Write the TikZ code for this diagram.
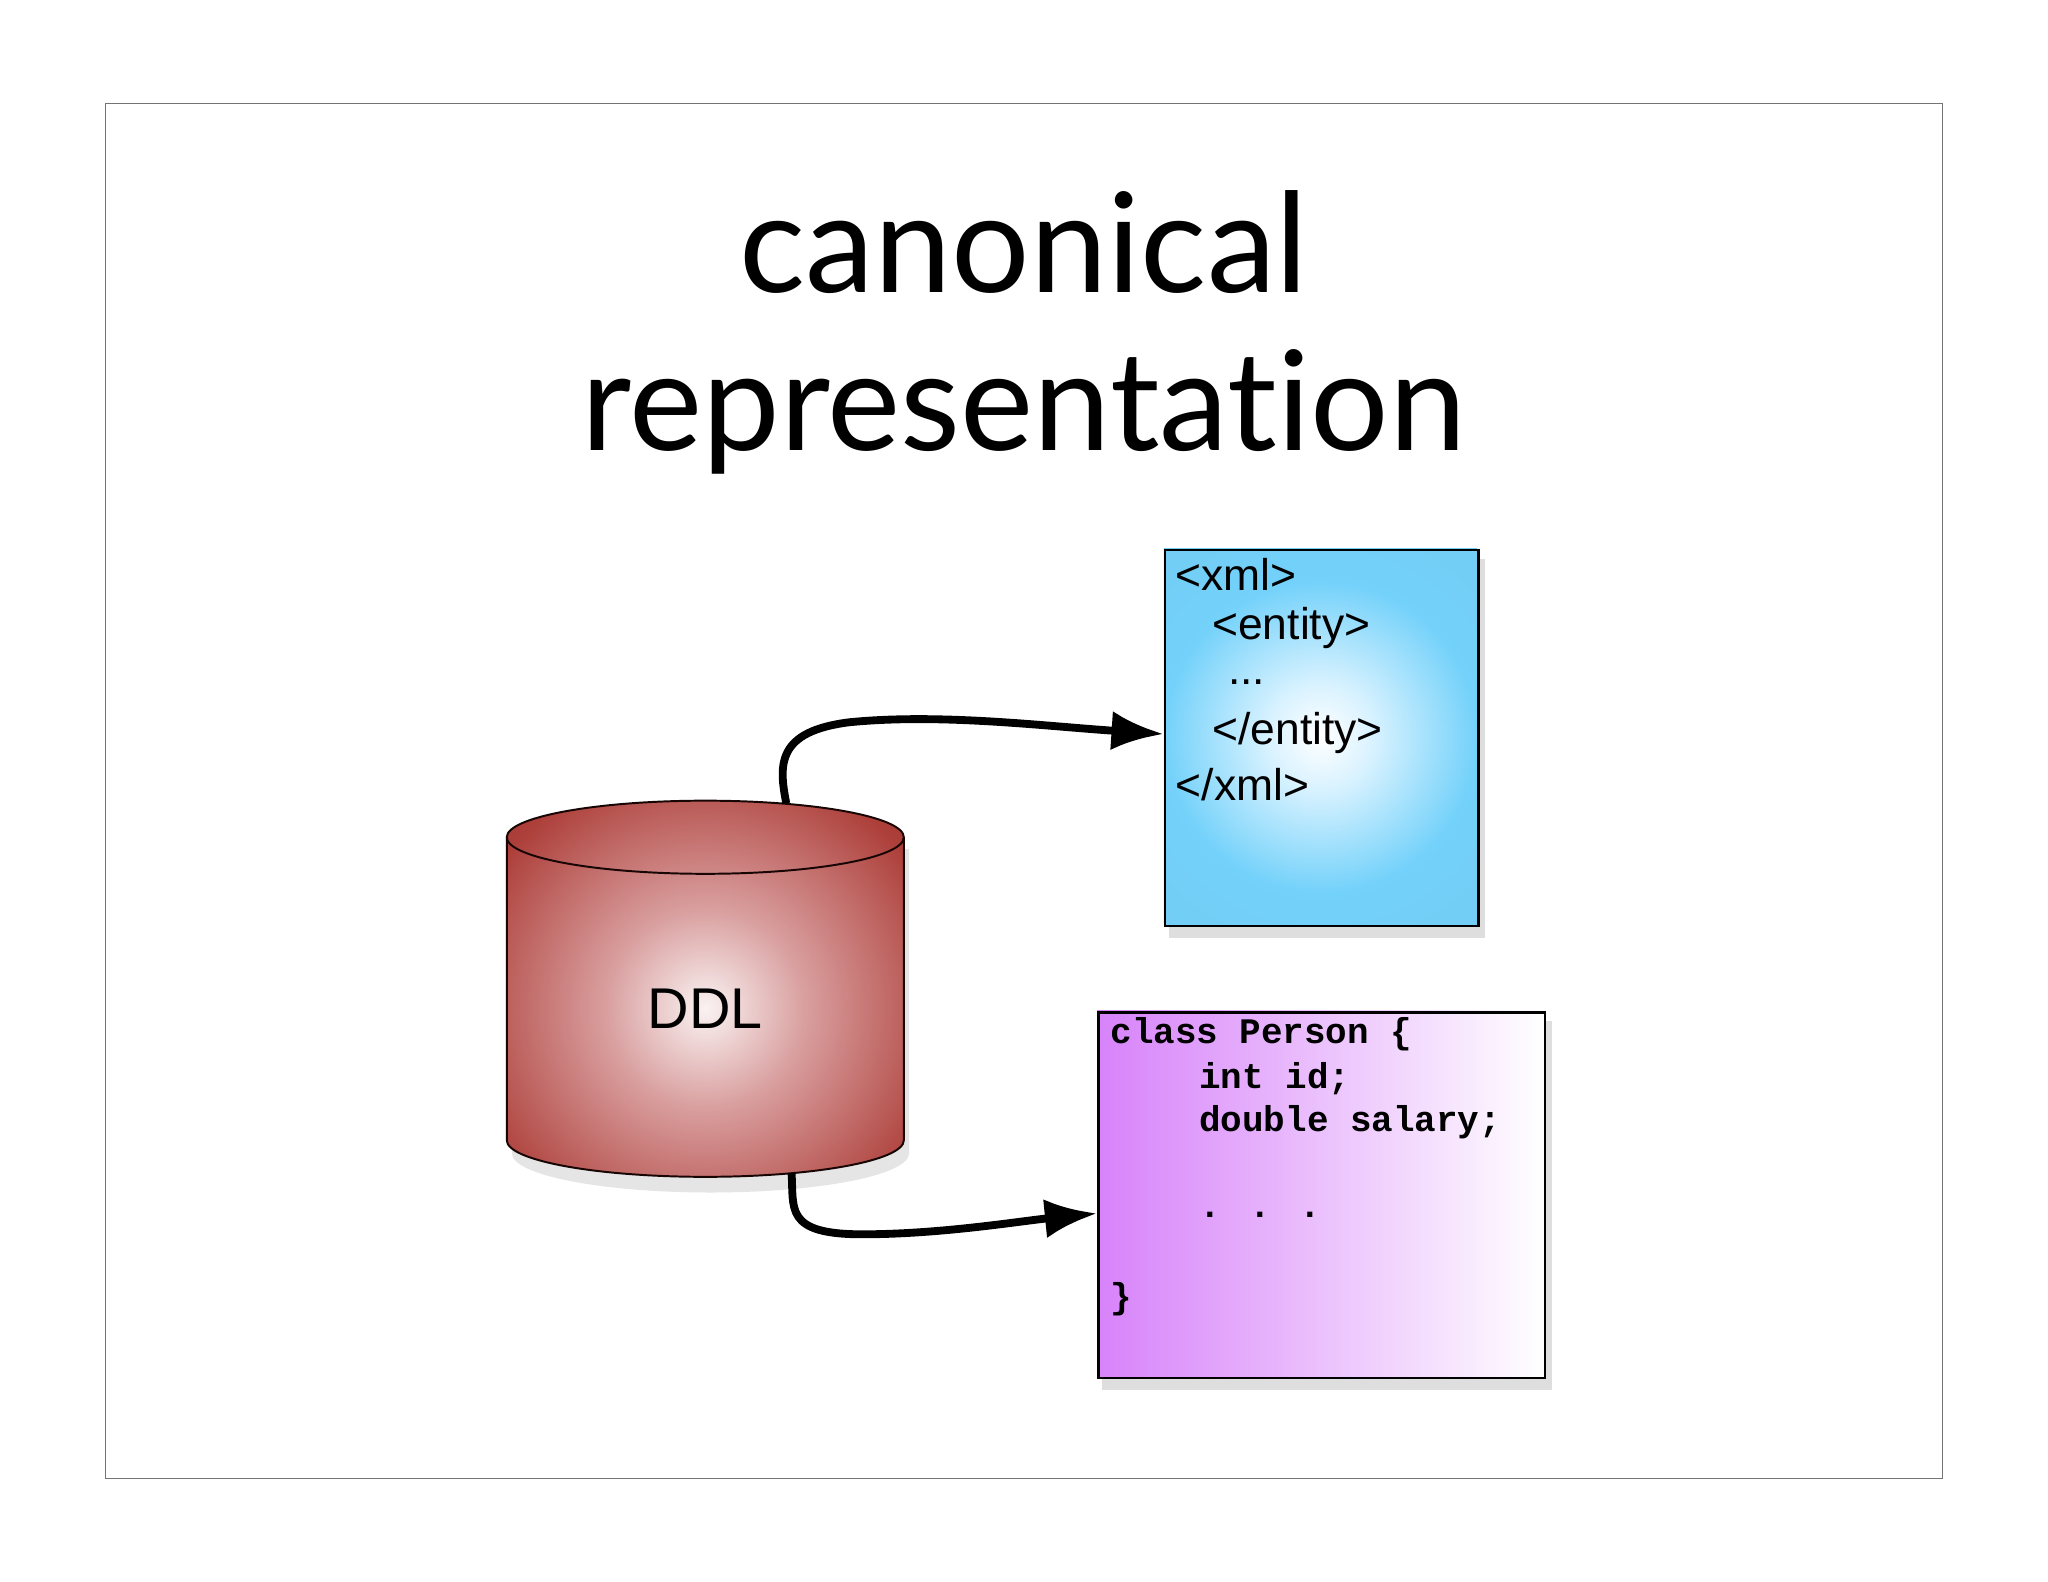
\documentclass[tikz,border=0pt]{standalone}
\usepackage{fontspec}
\setmainfont[Ligatures=NoCommon]{Lato}
\newfontfamily\arialf{Liberation Sans}
\newfontfamily\monof{Liberation Mono}
\usetikzlibrary{arrows.meta}
\definecolor{ddlred}{RGB}{160,40,35}
\definecolor{violetc}{RGB}{215,130,250}
\pgfdeclareradialshading{xmlshade}{\pgfpoint{0bp}{0bp}}{rgb(0bp)=(1,1,1);rgb(4bp)=(0.85,0.95,1);rgb(12bp)=(0.45,0.82,0.98);rgb(20bp)=(0.45,0.8,0.95);rgb(28bp)=(0.62,0.72,0.78);rgb(50bp)=(0.62,0.72,0.78)}
\pgfdeclareradialshading{ddlshade}{\pgfpoint{0bp}{0bp}}{rgb(0bp)=(0.98,0.95,0.95);rgb(8bp)=(0.85,0.62,0.62);rgb(20bp)=(0.68,0.25,0.23);rgb(28bp)=(0.6,0.16,0.14);rgb(50bp)=(0.6,0.16,0.14)}
\tikzset{
  arr/.style={line width=6pt,-{Latex[length=40pt,width=30pt]}},
  xmlt/.style={anchor=west,inner sep=0pt,font=\arialf\fontsize{34}{40}\selectfont},
  codet/.style={anchor=west,inner sep=0pt,font=\monof\bfseries\fontsize{27.5}{32}\selectfont},
}
\begin{document}
\begin{tikzpicture}[x=1pt,y=-1pt]
\useasboundingbox (0,0) rectangle (1568,1211);
\fill[white] (0,0) rectangle (1568,1211);
\draw[black!55,line width=1pt] (81,79) rectangle (1487,1132);
\node[font=\fontsize{106}{114}\selectfont] (t1) at (784,185) {canonical};
\node[font=\fontsize{106}{114}\selectfont] (t2) at (784,315) {representation};
% shadows
\fill[black!25,opacity=0.5] (895,428) rectangle (1137,718);
\fill[black!25,opacity=0.5] (844,782) rectangle (1188,1064);
\fill[black!25,opacity=0.4] (392,650) -- (392,883) arc[start angle=180,end angle=0,x radius=152,y radius=30] -- (696,650) -- cycle;
% cylinder
\begin{scope}
\clip (388,641) -- (388,873) arc[start angle=180,end angle=0,x radius=152,y radius=28] -- (692,641) arc[start angle=0,end angle=-180,x radius=152,y radius=28] -- cycle;
\shade[shading=ddlshade] (300,532) rectangle (780,1012);
\end{scope}
\draw[line width=1.5pt,black!85!ddlred] (388,641) -- (388,873) arc[start angle=180,end angle=0,x radius=152,y radius=28] -- (692,641) arc[start angle=0,end angle=-180,x radius=152,y radius=28] -- cycle;
\draw[line width=1.5pt,black!85!ddlred] (388,641) arc[start angle=180,end angle=0,x radius=152,y radius=28];
\node[font=\arialf\fontsize{44}{50}\selectfont] (ddl) at (540,772) {DDL};
\coordinate (c1) at (602,615);
\coordinate (c2) at (606,898);
% xml box
\begin{scope}
\clip (891,420) rectangle (1131,708);
\shade[shading=xmlshade] (1011-250,564-250) rectangle (1011+250,564+250);
\end{scope}
\node[draw,line width=2pt,minimum width=240pt,minimum height=288pt,anchor=north west] (xml) at (891,420) {};
\node[xmlt] at (900,440) {<xml>};
\node[xmlt] at (928,481) {<entity>};
\node[xmlt] at (940,522) {...};
\node[xmlt] at (928,561) {</entity>};
\node[xmlt] at (900,601) {</xml>};
% class box
\shade[left color=violetc,right color=white] (840,774) rectangle (1182,1054);
\node[draw,line width=2pt,minimum width=342pt,minimum height=280pt,anchor=north west] (cls) at (840,774) {};
\node[codet] at (850,792) {class Person \{};
\node[codet] at (918,826) {int id;};
\node[codet] at (918,859) {double salary;};
\node[codet] at (918,930) {. . .};
\node[codet] at (850,995) {\}};
% arrows
\draw[arr] (c1) .. controls (596,585) and (595,560) .. (650,553) .. controls (720,546) and (800,556) .. (xml.west|-0,562);
\draw[arr] (c2) .. controls (608,925) and (600,945) .. (660,945) .. controls (720,945) and (780,935) .. (cls.west|-0,929);
\end{tikzpicture}
\end{document}
